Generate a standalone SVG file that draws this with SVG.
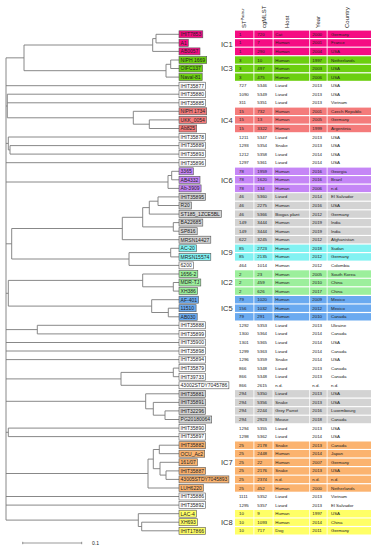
<svg xmlns="http://www.w3.org/2000/svg" width="379" height="550" viewBox="0 0 379 550">
<defs>
<style>
.br{fill:none;stroke:#7a7a7a;stroke-width:0.9}
.lb{stroke:#555;stroke-width:0.6}
.lt{font-family:"Liberation Sans",Arial,sans-serif;font-size:5px;fill:#222}
.tt{font-family:"Liberation Sans",Arial,sans-serif;font-size:4.4px;fill:#222}
.hd{font-family:"Liberation Sans",Arial,sans-serif;font-size:6px;fill:#222}
.ic{font-family:"Liberation Sans",Arial,sans-serif;font-size:7.5px;fill:#333}
.w{fill:#fff}
.c1{fill:#f50c83}.c3{fill:#6ccf10}.c4{fill:#f47b7b}.c6{fill:#c586f6}.cg{fill:#d3d3d3}
.c9{fill:#82f2f2}.c2{fill:#9cef9c}.c5{fill:#6aaaf0}.c7{fill:#fbb36f}.c8{fill:#ffff66}
</style>
</defs>
<rect width="379" height="550" fill="#fff"/>

<!-- headers -->
<g id="headers" class="hd">
<text transform="translate(246.2,28) rotate(-90)">ST<tspan font-size="3.5" dy="-2">Pasteur</tspan></text>
<text transform="translate(265.5,28) rotate(-90)">cgMLST</text>
<text transform="translate(288.9,28) rotate(-90)">Host</text>
<text transform="translate(319.9,28) rotate(-90)">Year</text>
<text transform="translate(348.9,28) rotate(-90)">Country</text>
</g>

<!-- tree connectors -->
<g id="connectors" class="br">
<path d="M6 57.85V520.1"/>
<path d="M6 57.85H24M24 45V70.7"/>
<path d="M24 45H152.7M152.7 38.6V51.4M152.7 38.6H156M156 34.3V42.9M156 34.3H179M156 42.9H179M152.7 51.4H179"/>
<path d="M24 70.7H166M166 64.3V77.1M166 64.3H170.7M170.7 60V68.5M170.7 60H179M170.7 68.5H179M166 77.1H179"/>
<path d="M6 85.7H179"/>
<path d="M6 106H7.3M7.3 94.2V117.8M7.3 94.2H179M7.3 102.8H179"/>
<path d="M7.3 117.8H133.3M133.3 111.3V124.2M133.3 111.3H179M133.3 124.2H149.3M149.3 119.9V128.5M149.3 119.9H179M149.3 128.5H179"/>
<path d="M6 143.4H8.3M8.3 137V149.9M8.3 137H179M8.3 149.9H10M10 145.6V154.1M10 145.6H179M10 154.1H179M6 162.7H179"/>
<path d="M6 182H168M168 175.5V188.4M168 175.5H171.7M171.7 171.3V179.8M171.7 171.3H179M171.7 179.8H179M168 188.4H179"/>
<path d="M6 243.8H11.7M11.7 228.5V259M11.7 228.5H122.3M122.3 217.3V239.7M122.3 239.7H179M122.3 217.3H142.7M142.7 207.6V226.9M142.7 207.6H149.3M149.3 201.2V214.1M149.3 214.1H179M149.3 201.2H158M158 196.9V205.5M158 196.9H179M158 205.5H179M142.7 226.9H173.3M173.3 222.6V231.2M173.3 222.6H179M173.3 231.2H179"/>
<path d="M11.7 259H129M129 252.6V265.4M129 265.4H179M129 252.6H170.7M170.7 248.3V256.9M170.7 248.3H179M170.7 256.9H179"/>
<path d="M6 293.3H8.3M8.3 280.4V306.1M8.3 280.4H142.7M142.7 274V286.8M142.7 274H179M142.7 286.8H173.3M173.3 282.5V291.1M173.3 282.5H179M173.3 291.1H179"/>
<path d="M8.3 306.1H151.7M151.7 299.7V312.5M151.7 299.7H179M151.7 312.5H168.3M168.3 308.2V316.8M168.3 308.2H179M168.3 316.8H179"/>
<path d="M6 329.6H37.3M37.3 325.3V333.9M37.3 325.3H179M37.3 333.9H179"/>
<path d="M6 342.5H179M6 351H179M6 359.6H179"/>
<path d="M6 378.9H121M121 372.4V385.3M121 385.3H179M121 372.4H173.3M173.3 368.1V376.7M173.3 368.1H179M173.3 376.7H179"/>
<path d="M6 401.3H145.7M145.7 393.8V408.8M145.7 393.8H179M145.7 408.8H153.3M153.3 402.4V415.2M153.3 402.4H179M153.3 415.2H165M165 410.9V419.5M165 410.9H179M165 419.5H179"/>
<path d="M6 432.3H8.3M8.3 428.1V436.6M8.3 428.1H179M8.3 436.6H179"/>
<path d="M6 473.5H148M148 459.1V488M148 488H179M148 459.1H153.3M153.3 449.5V468.7M153.3 449.5H159.3M159.3 445.2V453.7M159.3 445.2H179M159.3 453.7H179M153.3 468.7H160M160 462.3V475.1M160 462.3H179M160 475.1H166M166 470.9V479.4M166 470.9H179M166 479.4H179"/>
<path d="M6 496.5H179M6 505.1H179"/>
<path d="M6 520.1H138.3M138.3 513.7V526.5M138.3 513.7H179M138.3 526.5H141.7M141.7 522.2V530.8M141.7 522.2H179M141.7 530.8H179"/>
</g>

<!-- scale bar -->
<g id="scale">
<path d="M22.7 543H81.7M22.7 541.8V544.2M81.7 541.8V544.2" stroke="#555" stroke-width="0.6" fill="none"/>
<text x="92" y="545" class="lt">0.1</text>
</g>

<!-- IC labels -->
<g id="ic-labels" class="ic">
<text x="221" y="46.7">IC1</text>
<text x="221" y="71">IC3</text>
<text x="221" y="122.6">IC4</text>
<text x="221" y="182.5">IC6</text>
<text x="221" y="255.3">IC9</text>
<text x="221" y="285.2">IC2</text>
<text x="221" y="310.9">IC5</text>
<text x="221" y="465">IC7</text>
<text x="221" y="524.9">IC8</text>
</g>

<!-- rows: each node = label box + table row -->
<g id="r1"><rect class="lb c1" x="179" y="30.8" width="23.8" height="7"/><text class="lt" x="180.6" y="36.1">IHIT7853</text><g class="c1"><rect x="235" y="30.6" width="18.5" height="7.4"/><rect x="254.3" y="30.6" width="18.4" height="7.4"/><rect x="273.5" y="30.6" width="35.8" height="7.4"/><rect x="310.1" y="30.6" width="16.6" height="7.4"/><rect x="327.5" y="30.6" width="43.5" height="7.4"/></g><g class="tt"><text x="239" y="35.8">1</text><text x="257.3" y="35.8">720</text><text x="275.3" y="35.8">Cat</text><text x="312.3" y="35.8">2000</text><text x="331" y="35.8">Germany</text></g></g>
<g id="r2"><rect class="lb c1" x="179" y="39.4" width="9.3" height="7"/><text class="lt" x="180.6" y="44.7">A1</text><g class="c1"><rect x="235" y="39.2" width="18.5" height="7.4"/><rect x="254.3" y="39.2" width="18.4" height="7.4"/><rect x="273.5" y="39.2" width="35.8" height="7.4"/><rect x="310.1" y="39.2" width="16.6" height="7.4"/><rect x="327.5" y="39.2" width="43.5" height="7.4"/></g><g class="tt"><text x="239" y="44.4">1</text><text x="257.3" y="44.4">7</text><text x="275.3" y="44.4">Human</text><text x="312.3" y="44.4">2001</text><text x="331" y="44.4">France</text></g></g>
<g id="r3"><rect class="lb c1" x="179" y="47.9" width="21" height="7"/><text class="lt" x="180.6" y="53.2">AB0057</text><g class="c1"><rect x="235" y="47.7" width="18.5" height="7.4"/><rect x="254.3" y="47.7" width="18.4" height="7.4"/><rect x="273.5" y="47.7" width="35.8" height="7.4"/><rect x="310.1" y="47.7" width="16.6" height="7.4"/><rect x="327.5" y="47.7" width="43.5" height="7.4"/></g><g class="tt"><text x="239" y="52.9">1</text><text x="257.3" y="52.9">290</text><text x="275.3" y="52.9">Human</text><text x="312.3" y="52.9">2004</text><text x="331" y="52.9">USA</text></g></g>
<g id="r4"><rect class="lb c3" x="179" y="56.5" width="27.7" height="7"/><text class="lt" x="180.6" y="61.8">NIPH 1669</text><g class="c3"><rect x="235" y="56.3" width="18.5" height="7.4"/><rect x="254.3" y="56.3" width="18.4" height="7.4"/><rect x="273.5" y="56.3" width="35.8" height="7.4"/><rect x="310.1" y="56.3" width="16.6" height="7.4"/><rect x="327.5" y="56.3" width="43.5" height="7.4"/></g><g class="tt"><text x="239" y="61.5">3</text><text x="257.3" y="61.5">10</text><text x="275.3" y="61.5">Human</text><text x="312.3" y="61.5">1997</text><text x="331" y="61.5">Netherlands</text></g></g>
<g id="r5"><rect class="lb c3" x="179" y="65" width="23.5" height="7"/><text class="lt" x="180.6" y="70.3">OIFC137</text><g class="c3"><rect x="235" y="64.8" width="18.5" height="7.4"/><rect x="254.3" y="64.8" width="18.4" height="7.4"/><rect x="273.5" y="64.8" width="35.8" height="7.4"/><rect x="310.1" y="64.8" width="16.6" height="7.4"/><rect x="327.5" y="64.8" width="43.5" height="7.4"/></g><g class="tt"><text x="239" y="70">3</text><text x="257.3" y="70">497</text><text x="275.3" y="70">Human</text><text x="312.3" y="70">2003</text><text x="331" y="70">USA</text></g></g>
<g id="r6"><rect class="lb c3" x="179" y="73.6" width="23.2" height="7"/><text class="lt" x="180.6" y="78.9">Naval-81</text><g class="c3"><rect x="235" y="73.4" width="18.5" height="7.4"/><rect x="254.3" y="73.4" width="18.4" height="7.4"/><rect x="273.5" y="73.4" width="35.8" height="7.4"/><rect x="310.1" y="73.4" width="16.6" height="7.4"/><rect x="327.5" y="73.4" width="43.5" height="7.4"/></g><g class="tt"><text x="239" y="78.6">3</text><text x="257.3" y="78.6">475</text><text x="275.3" y="78.6">Human</text><text x="312.3" y="78.6">2006</text><text x="331" y="78.6">USA</text></g></g>
<g id="r7"><rect class="lb w" x="179" y="82.2" width="26.6" height="7"/><text class="lt" x="180.6" y="87.5">IHIT35877</text><g class="tt"><text x="239" y="87.2">727</text><text x="257.3" y="87.2">5346</text><text x="275.3" y="87.2">Lizard</text><text x="312.3" y="87.2">2013</text><text x="331" y="87.2">USA</text></g></g>
<g id="r8"><rect class="lb w" x="179" y="90.7" width="26.6" height="7"/><text class="lt" x="180.6" y="96">IHIT35880</text><g class="tt"><text x="239" y="95.7">1090</text><text x="257.3" y="95.7">5349</text><text x="275.3" y="95.7">Lizard</text><text x="312.3" y="95.7">2013</text><text x="331" y="95.7">USA</text></g></g>
<g id="r9"><rect class="lb w" x="179" y="99.3" width="26.6" height="7"/><text class="lt" x="180.6" y="104.6">IHIT35885</text><g class="tt"><text x="239" y="104.3">311</text><text x="257.3" y="104.3">5351</text><text x="275.3" y="104.3">Lizard</text><text x="312.3" y="104.3">2013</text><text x="331" y="104.3">Vietnam</text></g></g>
<g id="r10"><rect class="lb c4" x="179" y="107.8" width="27.7" height="7"/><text class="lt" x="180.6" y="113.1">NIPH 1734</text><g class="c4"><rect x="235" y="107.6" width="18.5" height="7.4"/><rect x="254.3" y="107.6" width="18.4" height="7.4"/><rect x="273.5" y="107.6" width="35.8" height="7.4"/><rect x="310.1" y="107.6" width="16.6" height="7.4"/><rect x="327.5" y="107.6" width="43.5" height="7.4"/></g><g class="tt"><text x="239" y="112.8">15</text><text x="257.3" y="112.8">732</text><text x="275.3" y="112.8">Human</text><text x="312.3" y="112.8">2001</text><text x="331" y="112.8">Czech Republic</text></g></g>
<g id="r11"><rect class="lb c4" x="179" y="116.4" width="27.4" height="7"/><text class="lt" x="180.6" y="121.7">UKK_0054</text><g class="c4"><rect x="235" y="116.2" width="18.5" height="7.4"/><rect x="254.3" y="116.2" width="18.4" height="7.4"/><rect x="273.5" y="116.2" width="35.8" height="7.4"/><rect x="310.1" y="116.2" width="16.6" height="7.4"/><rect x="327.5" y="116.2" width="43.5" height="7.4"/></g><g class="tt"><text x="239" y="121.4">15</text><text x="257.3" y="121.4">13</text><text x="275.3" y="121.4">Human</text><text x="312.3" y="121.4">2005</text><text x="331" y="121.4">Germany</text></g></g>
<g id="r12"><rect class="lb c4" x="179" y="125" width="17.7" height="7"/><text class="lt" x="180.6" y="130.3">Ab825</text><g class="c4"><rect x="235" y="124.8" width="18.5" height="7.4"/><rect x="254.3" y="124.8" width="18.4" height="7.4"/><rect x="273.5" y="124.8" width="35.8" height="7.4"/><rect x="310.1" y="124.8" width="16.6" height="7.4"/><rect x="327.5" y="124.8" width="43.5" height="7.4"/></g><g class="tt"><text x="239" y="130">15</text><text x="257.3" y="130">3322</text><text x="275.3" y="130">Human</text><text x="312.3" y="130">1999</text><text x="331" y="130">Argentinia</text></g></g>
<g id="r13"><rect class="lb w" x="179" y="133.5" width="26.6" height="7"/><text class="lt" x="180.6" y="138.8">IHIT35878</text><g class="tt"><text x="239" y="138.5">1211</text><text x="257.3" y="138.5">5347</text><text x="275.3" y="138.5">Lizard</text><text x="312.3" y="138.5">2013</text><text x="331" y="138.5">USA</text></g></g>
<g id="r14"><rect class="lb w" x="179" y="142.1" width="26.6" height="7"/><text class="lt" x="180.6" y="147.4">IHIT35889</text><g class="tt"><text x="239" y="147.1">1293</text><text x="257.3" y="147.1">5354</text><text x="275.3" y="147.1">Snake</text><text x="312.3" y="147.1">2013</text><text x="331" y="147.1">USA</text></g></g>
<g id="r15"><rect class="lb w" x="179" y="150.6" width="26.6" height="7"/><text class="lt" x="180.6" y="155.9">IHIT35893</text><g class="tt"><text x="239" y="155.6">1212</text><text x="257.3" y="155.6">5358</text><text x="275.3" y="155.6">Lizard</text><text x="312.3" y="155.6">2014</text><text x="331" y="155.6">USA</text></g></g>
<g id="r16"><rect class="lb w" x="179" y="159.2" width="26.6" height="7"/><text class="lt" x="180.6" y="164.5">IHIT35896</text><g class="tt"><text x="239" y="164.2">1297</text><text x="257.3" y="164.2">5361</text><text x="275.3" y="164.2">Lizard</text><text x="312.3" y="164.2">2014</text><text x="331" y="164.2">USA</text></g></g>
<g id="r17"><rect class="lb c6" x="179" y="167.8" width="14.3" height="7"/><text class="lt" x="180.6" y="173.1">3365</text><g class="c6"><rect x="235" y="167.6" width="18.5" height="7.4"/><rect x="254.3" y="167.6" width="18.4" height="7.4"/><rect x="273.5" y="167.6" width="35.8" height="7.4"/><rect x="310.1" y="167.6" width="16.6" height="7.4"/><rect x="327.5" y="167.6" width="43.5" height="7.4"/></g><g class="tt"><text x="239" y="172.8">78</text><text x="257.3" y="172.8">1959</text><text x="275.3" y="172.8">Human</text><text x="312.3" y="172.8">2016</text><text x="331" y="172.8">Georgia</text></g></g>
<g id="r18"><rect class="lb c6" x="179" y="176.3" width="21" height="7"/><text class="lt" x="180.6" y="181.6">AB4332</text><g class="c6"><rect x="235" y="176.1" width="18.5" height="7.4"/><rect x="254.3" y="176.1" width="18.4" height="7.4"/><rect x="273.5" y="176.1" width="35.8" height="7.4"/><rect x="310.1" y="176.1" width="16.6" height="7.4"/><rect x="327.5" y="176.1" width="43.5" height="7.4"/></g><g class="tt"><text x="239" y="181.3">78</text><text x="257.3" y="181.3">1620</text><text x="275.3" y="181.3">Human</text><text x="312.3" y="181.3">2016</text><text x="331" y="181.3">Brazil</text></g></g>
<g id="r19"><rect class="lb c6" x="179" y="184.9" width="22.1" height="7"/><text class="lt" x="180.6" y="190.2">Ab-3909</text><g class="c6"><rect x="235" y="184.7" width="18.5" height="7.4"/><rect x="254.3" y="184.7" width="18.4" height="7.4"/><rect x="273.5" y="184.7" width="35.8" height="7.4"/><rect x="310.1" y="184.7" width="16.6" height="7.4"/><rect x="327.5" y="184.7" width="43.5" height="7.4"/></g><g class="tt"><text x="239" y="189.9">78</text><text x="257.3" y="189.9">134</text><text x="275.3" y="189.9">Human</text><text x="312.3" y="189.9">2006</text><text x="331" y="189.9">n.d.</text></g></g>
<g id="r20"><rect class="lb cg" x="179" y="193.4" width="26.6" height="7"/><text class="lt" x="180.6" y="198.7">IHIT35895</text><g class="cg"><rect x="235" y="193.2" width="18.5" height="7.4"/><rect x="254.3" y="193.2" width="18.4" height="7.4"/><rect x="273.5" y="193.2" width="35.8" height="7.4"/><rect x="310.1" y="193.2" width="16.6" height="7.4"/><rect x="327.5" y="193.2" width="43.5" height="7.4"/></g><g class="tt"><text x="239" y="198.4">46</text><text x="257.3" y="198.4">5360</text><text x="275.3" y="198.4">Lizard</text><text x="312.3" y="198.4">2014</text><text x="331" y="198.4">El Salvador</text></g></g>
<g id="r21"><rect class="lb cg" x="179" y="202" width="12.4" height="7"/><text class="lt" x="180.6" y="207.3">R20</text><g class="cg"><rect x="235" y="201.8" width="18.5" height="7.4"/><rect x="254.3" y="201.8" width="18.4" height="7.4"/><rect x="273.5" y="201.8" width="35.8" height="7.4"/><rect x="310.1" y="201.8" width="16.6" height="7.4"/><rect x="327.5" y="201.8" width="43.5" height="7.4"/></g><g class="tt"><text x="239" y="207">46</text><text x="257.3" y="207">2275</text><text x="275.3" y="207">Human</text><text x="312.3" y="207">2016</text><text x="331" y="207">USA</text></g></g>
<g id="r22"><rect class="lb cg" x="179" y="210.6" width="42.4" height="7"/><text class="lt" x="180.6" y="215.9">ST185_1ZCE5BL</text><g class="cg"><rect x="235" y="210.4" width="18.5" height="7.4"/><rect x="254.3" y="210.4" width="18.4" height="7.4"/><rect x="273.5" y="210.4" width="35.8" height="7.4"/><rect x="310.1" y="210.4" width="16.6" height="7.4"/><rect x="327.5" y="210.4" width="43.5" height="7.4"/></g><g class="tt"><text x="239" y="215.6">46</text><text x="257.3" y="215.6">5366</text><text x="275.3" y="215.6">Biogas plant</text><text x="312.3" y="215.6">2012</text><text x="331" y="215.6">Germany</text></g></g>
<g id="r23"><rect class="lb cg" x="179" y="219.1" width="23.8" height="7"/><text class="lt" x="180.6" y="224.4">BA22685</text><g class="cg"><rect x="235" y="218.9" width="18.5" height="7.4"/><rect x="254.3" y="218.9" width="18.4" height="7.4"/><rect x="273.5" y="218.9" width="35.8" height="7.4"/><rect x="310.1" y="218.9" width="16.6" height="7.4"/><rect x="327.5" y="218.9" width="43.5" height="7.4"/></g><g class="tt"><text x="239" y="224.1">149</text><text x="257.3" y="224.1">3444</text><text x="275.3" y="224.1">Human</text><text x="312.3" y="224.1">2019</text><text x="331" y="224.1">India</text></g></g>
<g id="r24"><rect class="lb cg" x="179" y="227.7" width="18.2" height="7"/><text class="lt" x="180.6" y="233">SP816</text><g class="cg"><rect x="235" y="227.5" width="18.5" height="7.4"/><rect x="254.3" y="227.5" width="18.4" height="7.4"/><rect x="273.5" y="227.5" width="35.8" height="7.4"/><rect x="310.1" y="227.5" width="16.6" height="7.4"/><rect x="327.5" y="227.5" width="43.5" height="7.4"/></g><g class="tt"><text x="239" y="232.7">149</text><text x="257.3" y="232.7">3444</text><text x="275.3" y="232.7">Human</text><text x="312.3" y="232.7">2019</text><text x="331" y="232.7">India</text></g></g>
<g id="r25"><rect class="lb cg" x="179" y="236.2" width="31.8" height="7"/><text class="lt" x="180.6" y="241.5">MRSN14427</text><g class="cg"><rect x="235" y="236" width="18.5" height="7.4"/><rect x="254.3" y="236" width="18.4" height="7.4"/><rect x="273.5" y="236" width="35.8" height="7.4"/><rect x="310.1" y="236" width="16.6" height="7.4"/><rect x="327.5" y="236" width="43.5" height="7.4"/></g><g class="tt"><text x="239" y="241.2">622</text><text x="257.3" y="241.2">3245</text><text x="275.3" y="241.2">Human</text><text x="312.3" y="241.2">2012</text><text x="331" y="241.2">Afghanistan</text></g></g>
<g id="r26"><rect class="lb c9" x="179" y="244.8" width="17.4" height="7"/><text class="lt" x="180.6" y="250.1">AC-20</text><g class="c9"><rect x="235" y="244.6" width="18.5" height="7.4"/><rect x="254.3" y="244.6" width="18.4" height="7.4"/><rect x="273.5" y="244.6" width="35.8" height="7.4"/><rect x="310.1" y="244.6" width="16.6" height="7.4"/><rect x="327.5" y="244.6" width="43.5" height="7.4"/></g><g class="tt"><text x="239" y="249.8">85</text><text x="257.3" y="249.8">2723</text><text x="275.3" y="249.8">Human</text><text x="312.3" y="249.8">2018</text><text x="331" y="249.8">Sudan</text></g></g>
<g id="r27"><rect class="lb c9" x="179" y="253.4" width="31.8" height="7"/><text class="lt" x="180.6" y="258.7">MRSN15574</text><g class="c9"><rect x="235" y="253.2" width="18.5" height="7.4"/><rect x="254.3" y="253.2" width="18.4" height="7.4"/><rect x="273.5" y="253.2" width="35.8" height="7.4"/><rect x="310.1" y="253.2" width="16.6" height="7.4"/><rect x="327.5" y="253.2" width="43.5" height="7.4"/></g><g class="tt"><text x="239" y="258.4">85</text><text x="257.3" y="258.4">2135</text><text x="275.3" y="258.4">Human</text><text x="312.3" y="258.4">2012</text><text x="331" y="258.4">Germany</text></g></g>
<g id="r28"><rect class="lb w" x="179" y="261.9" width="14.3" height="7"/><text class="lt" x="180.6" y="267.2">6200</text><g class="tt"><text x="239" y="266.9">464</text><text x="257.3" y="266.9">1014</text><text x="275.3" y="266.9">Human</text><text x="312.3" y="266.9">2012</text><text x="331" y="266.9">Colombia</text></g></g>
<g id="r29"><rect class="lb c2" x="179" y="270.5" width="18.8" height="7"/><text class="lt" x="180.6" y="275.8">1656-2</text><g class="c2"><rect x="235" y="270.3" width="18.5" height="7.4"/><rect x="254.3" y="270.3" width="18.4" height="7.4"/><rect x="273.5" y="270.3" width="35.8" height="7.4"/><rect x="310.1" y="270.3" width="16.6" height="7.4"/><rect x="327.5" y="270.3" width="43.5" height="7.4"/></g><g class="tt"><text x="239" y="275.5">2</text><text x="257.3" y="275.5">23</text><text x="275.3" y="275.5">Human</text><text x="312.3" y="275.5">2005</text><text x="331" y="275.5">South Korea</text></g></g>
<g id="r30"><rect class="lb c2" x="179" y="279" width="21.8" height="7"/><text class="lt" x="180.6" y="284.3">MDR-TJ</text><g class="c2"><rect x="235" y="278.8" width="18.5" height="7.4"/><rect x="254.3" y="278.8" width="18.4" height="7.4"/><rect x="273.5" y="278.8" width="35.8" height="7.4"/><rect x="310.1" y="278.8" width="16.6" height="7.4"/><rect x="327.5" y="278.8" width="43.5" height="7.4"/></g><g class="tt"><text x="239" y="284">2</text><text x="257.3" y="284">459</text><text x="275.3" y="284">Human</text><text x="312.3" y="284">2010</text><text x="331" y="284">China</text></g></g>
<g id="r31"><rect class="lb c2" x="179" y="287.6" width="18.5" height="7"/><text class="lt" x="180.6" y="292.9">XH386</text><g class="c2"><rect x="235" y="287.4" width="18.5" height="7.4"/><rect x="254.3" y="287.4" width="18.4" height="7.4"/><rect x="273.5" y="287.4" width="35.8" height="7.4"/><rect x="310.1" y="287.4" width="16.6" height="7.4"/><rect x="327.5" y="287.4" width="43.5" height="7.4"/></g><g class="tt"><text x="239" y="292.6">2</text><text x="257.3" y="292.6">626</text><text x="275.3" y="292.6">Human</text><text x="312.3" y="292.6">2017</text><text x="331" y="292.6">China</text></g></g>
<g id="r32"><rect class="lb c5" x="179" y="296.2" width="19.6" height="7"/><text class="lt" x="180.6" y="301.5">AF-401</text><g class="c5"><rect x="235" y="296" width="18.5" height="7.4"/><rect x="254.3" y="296" width="18.4" height="7.4"/><rect x="273.5" y="296" width="35.8" height="7.4"/><rect x="310.1" y="296" width="16.6" height="7.4"/><rect x="327.5" y="296" width="43.5" height="7.4"/></g><g class="tt"><text x="239" y="301.2">79</text><text x="257.3" y="301.2">1020</text><text x="275.3" y="301.2">Human</text><text x="312.3" y="301.2">2009</text><text x="331" y="301.2">Mexico</text></g></g>
<g id="r33"><rect class="lb c5" x="179" y="304.7" width="17.1" height="7"/><text class="lt" x="180.6" y="310">11510</text><g class="c5"><rect x="235" y="304.5" width="18.5" height="7.4"/><rect x="254.3" y="304.5" width="18.4" height="7.4"/><rect x="273.5" y="304.5" width="35.8" height="7.4"/><rect x="310.1" y="304.5" width="16.6" height="7.4"/><rect x="327.5" y="304.5" width="43.5" height="7.4"/></g><g class="tt"><text x="239" y="309.7">156</text><text x="257.3" y="309.7">1032</text><text x="275.3" y="309.7">Human</text><text x="312.3" y="309.7">2012</text><text x="331" y="309.7">Mexico</text></g></g>
<g id="r34"><rect class="lb c5" x="179" y="313.3" width="18.2" height="7"/><text class="lt" x="180.6" y="318.6">AB030</text><g class="c5"><rect x="235" y="313.1" width="18.5" height="7.4"/><rect x="254.3" y="313.1" width="18.4" height="7.4"/><rect x="273.5" y="313.1" width="35.8" height="7.4"/><rect x="310.1" y="313.1" width="16.6" height="7.4"/><rect x="327.5" y="313.1" width="43.5" height="7.4"/></g><g class="tt"><text x="239" y="318.3">79</text><text x="257.3" y="318.3">291</text><text x="275.3" y="318.3">Human</text><text x="312.3" y="318.3">2010</text><text x="331" y="318.3">Canada</text></g></g>
<g id="r35"><rect class="lb w" x="179" y="321.8" width="26.6" height="7"/><text class="lt" x="180.6" y="327.1">IHIT35888</text><g class="tt"><text x="239" y="326.8">1292</text><text x="257.3" y="326.8">5353</text><text x="275.3" y="326.8">Lizard</text><text x="312.3" y="326.8">2013</text><text x="331" y="326.8">Ukraine</text></g></g>
<g id="r36"><rect class="lb w" x="179" y="330.4" width="26.6" height="7"/><text class="lt" x="180.6" y="335.7">IHIT35899</text><g class="tt"><text x="239" y="335.4">1300</text><text x="257.3" y="335.4">5364</text><text x="275.3" y="335.4">Lizard</text><text x="312.3" y="335.4">2014</text><text x="331" y="335.4">Canada</text></g></g>
<g id="r37"><rect class="lb w" x="179" y="339" width="26.6" height="7"/><text class="lt" x="180.6" y="344.3">IHIT35900</text><g class="tt"><text x="239" y="344">1301</text><text x="257.3" y="344">5365</text><text x="275.3" y="344">Lizard</text><text x="312.3" y="344">2014</text><text x="331" y="344">USA</text></g></g>
<g id="r38"><rect class="lb w" x="179" y="347.5" width="26.6" height="7"/><text class="lt" x="180.6" y="352.8">IHIT35898</text><g class="tt"><text x="239" y="352.5">1299</text><text x="257.3" y="352.5">5363</text><text x="275.3" y="352.5">Lizard</text><text x="312.3" y="352.5">2014</text><text x="331" y="352.5">Canada</text></g></g>
<g id="r39"><rect class="lb w" x="179" y="356.1" width="26.6" height="7"/><text class="lt" x="180.6" y="361.4">IHIT35894</text><g class="tt"><text x="239" y="361.1">1296</text><text x="257.3" y="361.1">5359</text><text x="275.3" y="361.1">Snake</text><text x="312.3" y="361.1">2014</text><text x="331" y="361.1">USA</text></g></g>
<g id="r40"><rect class="lb w" x="179" y="364.6" width="26.6" height="7"/><text class="lt" x="180.6" y="369.9">IHIT35879</text><g class="tt"><text x="239" y="369.6">866</text><text x="257.3" y="369.6">5348</text><text x="275.3" y="369.6">Lizard</text><text x="312.3" y="369.6">2013</text><text x="331" y="369.6">Canada</text></g></g>
<g id="r41"><rect class="lb w" x="179" y="373.2" width="26.6" height="7"/><text class="lt" x="180.6" y="378.5">IHIT39733</text><g class="tt"><text x="239" y="378.2">866</text><text x="257.3" y="378.2">5348</text><text x="275.3" y="378.2">Lizard</text><text x="312.3" y="378.2">2013</text><text x="331" y="378.2">Canada</text></g></g>
<g id="r42"><rect class="lb w" x="179" y="381.8" width="49.9" height="7"/><text class="lt" x="180.6" y="387.1">43002STDY7045786</text><g class="tt"><text x="239" y="386.8">866</text><text x="257.3" y="386.8">2615</text><text x="275.3" y="386.8">n.d.</text><text x="312.3" y="386.8">n.d.</text><text x="331" y="386.8">n.d.</text></g></g>
<g id="r43"><rect class="lb cg" x="179" y="390.3" width="26.6" height="7"/><text class="lt" x="180.6" y="395.6">IHIT35881</text><g class="cg"><rect x="235" y="390.1" width="18.5" height="7.4"/><rect x="254.3" y="390.1" width="18.4" height="7.4"/><rect x="273.5" y="390.1" width="35.8" height="7.4"/><rect x="310.1" y="390.1" width="16.6" height="7.4"/><rect x="327.5" y="390.1" width="43.5" height="7.4"/></g><g class="tt"><text x="239" y="395.3">294</text><text x="257.3" y="395.3">5350</text><text x="275.3" y="395.3">Lizard</text><text x="312.3" y="395.3">2013</text><text x="331" y="395.3">USA</text></g></g>
<g id="r44"><rect class="lb cg" x="179" y="398.9" width="26.6" height="7"/><text class="lt" x="180.6" y="404.2">IHIT35891</text><g class="cg"><rect x="235" y="398.7" width="18.5" height="7.4"/><rect x="254.3" y="398.7" width="18.4" height="7.4"/><rect x="273.5" y="398.7" width="35.8" height="7.4"/><rect x="310.1" y="398.7" width="16.6" height="7.4"/><rect x="327.5" y="398.7" width="43.5" height="7.4"/></g><g class="tt"><text x="239" y="403.9">294</text><text x="257.3" y="403.9">5356</text><text x="275.3" y="403.9">Snake</text><text x="312.3" y="403.9">2013</text><text x="331" y="403.9">USA</text></g></g>
<g id="r45"><rect class="lb cg" x="179" y="407.4" width="26.6" height="7"/><text class="lt" x="180.6" y="412.7">IHIT32296</text><g class="cg"><rect x="235" y="407.2" width="18.5" height="7.4"/><rect x="254.3" y="407.2" width="18.4" height="7.4"/><rect x="273.5" y="407.2" width="35.8" height="7.4"/><rect x="310.1" y="407.2" width="16.6" height="7.4"/><rect x="327.5" y="407.2" width="43.5" height="7.4"/></g><g class="tt"><text x="239" y="412.4">294</text><text x="257.3" y="412.4">2244</text><text x="275.3" y="412.4">Grey Parrot</text><text x="312.3" y="412.4">2016</text><text x="331" y="412.4">Luxembourg</text></g></g>
<g id="r46"><rect class="lb cg" x="179" y="416" width="32.7" height="7"/><text class="lt" x="180.6" y="421.3">PG20180064</text><g class="cg"><rect x="235" y="415.8" width="18.5" height="7.4"/><rect x="254.3" y="415.8" width="18.4" height="7.4"/><rect x="273.5" y="415.8" width="35.8" height="7.4"/><rect x="310.1" y="415.8" width="16.6" height="7.4"/><rect x="327.5" y="415.8" width="43.5" height="7.4"/></g><g class="tt"><text x="239" y="421">294</text><text x="257.3" y="421">2923</text><text x="275.3" y="421">Mouse</text><text x="312.3" y="421">2018</text><text x="331" y="421">Canada</text></g></g>
<g id="r47"><rect class="lb w" x="179" y="424.6" width="26.6" height="7"/><text class="lt" x="180.6" y="429.9">IHIT35890</text><g class="tt"><text x="239" y="429.6">1294</text><text x="257.3" y="429.6">5355</text><text x="275.3" y="429.6">Lizard</text><text x="312.3" y="429.6">2013</text><text x="331" y="429.6">USA</text></g></g>
<g id="r48"><rect class="lb w" x="179" y="433.1" width="26.6" height="7"/><text class="lt" x="180.6" y="438.4">IHIT35897</text><g class="tt"><text x="239" y="438.1">1298</text><text x="257.3" y="438.1">5362</text><text x="275.3" y="438.1">Lizard</text><text x="312.3" y="438.1">2014</text><text x="331" y="438.1">USA</text></g></g>
<g id="r49"><rect class="lb c7" x="179" y="441.7" width="26.6" height="7"/><text class="lt" x="180.6" y="447">IHIT35882</text><g class="c7"><rect x="235" y="441.5" width="18.5" height="7.4"/><rect x="254.3" y="441.5" width="18.4" height="7.4"/><rect x="273.5" y="441.5" width="35.8" height="7.4"/><rect x="310.1" y="441.5" width="16.6" height="7.4"/><rect x="327.5" y="441.5" width="43.5" height="7.4"/></g><g class="tt"><text x="239" y="446.7">25</text><text x="257.3" y="446.7">2178</text><text x="275.3" y="446.7">Snake</text><text x="312.3" y="446.7">2013</text><text x="331" y="446.7">Canada</text></g></g>
<g id="r50"><rect class="lb c7" x="179" y="450.2" width="25.7" height="7"/><text class="lt" x="180.6" y="455.5">OCU_Ac2</text><g class="c7"><rect x="235" y="450" width="18.5" height="7.4"/><rect x="254.3" y="450" width="18.4" height="7.4"/><rect x="273.5" y="450" width="35.8" height="7.4"/><rect x="310.1" y="450" width="16.6" height="7.4"/><rect x="327.5" y="450" width="43.5" height="7.4"/></g><g class="tt"><text x="239" y="455.2">25</text><text x="257.3" y="455.2">2448</text><text x="275.3" y="455.2">Human</text><text x="312.3" y="455.2">2014</text><text x="331" y="455.2">Japan</text></g></g>
<g id="r51"><rect class="lb c7" x="179" y="458.8" width="18.5" height="7"/><text class="lt" x="180.6" y="464.1">161/07</text><g class="c7"><rect x="235" y="458.6" width="18.5" height="7.4"/><rect x="254.3" y="458.6" width="18.4" height="7.4"/><rect x="273.5" y="458.6" width="35.8" height="7.4"/><rect x="310.1" y="458.6" width="16.6" height="7.4"/><rect x="327.5" y="458.6" width="43.5" height="7.4"/></g><g class="tt"><text x="239" y="463.8">25</text><text x="257.3" y="463.8">22</text><text x="275.3" y="463.8">Human</text><text x="312.3" y="463.8">2007</text><text x="331" y="463.8">Germany</text></g></g>
<g id="r52"><rect class="lb c7" x="179" y="467.4" width="26.6" height="7"/><text class="lt" x="180.6" y="472.7">IHIT35887</text><g class="c7"><rect x="235" y="467.2" width="18.5" height="7.4"/><rect x="254.3" y="467.2" width="18.4" height="7.4"/><rect x="273.5" y="467.2" width="35.8" height="7.4"/><rect x="310.1" y="467.2" width="16.6" height="7.4"/><rect x="327.5" y="467.2" width="43.5" height="7.4"/></g><g class="tt"><text x="239" y="472.4">25</text><text x="257.3" y="472.4">2176</text><text x="275.3" y="472.4">Snake</text><text x="312.3" y="472.4">2013</text><text x="331" y="472.4">USA</text></g></g>
<g id="r53"><rect class="lb c7" x="179" y="475.9" width="49.9" height="7"/><text class="lt" x="180.6" y="481.2">43005STDY7045893</text><g class="c7"><rect x="235" y="475.7" width="18.5" height="7.4"/><rect x="254.3" y="475.7" width="18.4" height="7.4"/><rect x="273.5" y="475.7" width="35.8" height="7.4"/><rect x="310.1" y="475.7" width="16.6" height="7.4"/><rect x="327.5" y="475.7" width="43.5" height="7.4"/></g><g class="tt"><text x="239" y="480.9">25</text><text x="257.3" y="480.9">2374</text><text x="275.3" y="480.9">n.d.</text><text x="312.3" y="480.9">n.d.</text><text x="331" y="480.9">n.d.</text></g></g>
<g id="r54"><rect class="lb c7" x="179" y="484.5" width="24.3" height="7"/><text class="lt" x="180.6" y="489.8">LUH6220</text><g class="c7"><rect x="235" y="484.3" width="18.5" height="7.4"/><rect x="254.3" y="484.3" width="18.4" height="7.4"/><rect x="273.5" y="484.3" width="35.8" height="7.4"/><rect x="310.1" y="484.3" width="16.6" height="7.4"/><rect x="327.5" y="484.3" width="43.5" height="7.4"/></g><g class="tt"><text x="239" y="489.5">25</text><text x="257.3" y="489.5">452</text><text x="275.3" y="489.5">Human</text><text x="312.3" y="489.5">2000</text><text x="331" y="489.5">Netherlands</text></g></g>
<g id="r55"><rect class="lb w" x="179" y="493" width="26.6" height="7"/><text class="lt" x="180.6" y="498.3">IHIT35886</text><g class="tt"><text x="239" y="498">1111</text><text x="257.3" y="498">5352</text><text x="275.3" y="498">Lizard</text><text x="312.3" y="498">2013</text><text x="331" y="498">Vietnam</text></g></g>
<g id="r56"><rect class="lb w" x="179" y="501.6" width="26.6" height="7"/><text class="lt" x="180.6" y="506.9">IHIT35892</text><g class="tt"><text x="239" y="506.6">1295</text><text x="257.3" y="506.6">5357</text><text x="275.3" y="506.6">Lizard</text><text x="312.3" y="506.6">2013</text><text x="331" y="506.6">El Salvador</text></g></g>
<g id="r57"><rect class="lb c8" x="179" y="510.2" width="17.4" height="7"/><text class="lt" x="180.6" y="515.5">LAC-4</text><g class="c8"><rect x="235" y="510" width="18.5" height="7.4"/><rect x="254.3" y="510" width="18.4" height="7.4"/><rect x="273.5" y="510" width="35.8" height="7.4"/><rect x="310.1" y="510" width="16.6" height="7.4"/><rect x="327.5" y="510" width="43.5" height="7.4"/></g><g class="tt"><text x="239" y="515.2">10</text><text x="257.3" y="515.2">9</text><text x="275.3" y="515.2">Human</text><text x="312.3" y="515.2">1997</text><text x="331" y="515.2">USA</text></g></g>
<g id="r58"><rect class="lb c8" x="179" y="518.7" width="18.5" height="7"/><text class="lt" x="180.6" y="524">XH693</text><g class="c8"><rect x="235" y="518.5" width="18.5" height="7.4"/><rect x="254.3" y="518.5" width="18.4" height="7.4"/><rect x="273.5" y="518.5" width="35.8" height="7.4"/><rect x="310.1" y="518.5" width="16.6" height="7.4"/><rect x="327.5" y="518.5" width="43.5" height="7.4"/></g><g class="tt"><text x="239" y="523.7">10</text><text x="257.3" y="523.7">1093</text><text x="275.3" y="523.7">Human</text><text x="312.3" y="523.7">2014</text><text x="331" y="523.7">China</text></g></g>
<g id="r59"><rect class="lb c8" x="179" y="527.3" width="26.6" height="7"/><text class="lt" x="180.6" y="532.6">IHIT17866</text><g class="c8"><rect x="235" y="527.1" width="18.5" height="7.4"/><rect x="254.3" y="527.1" width="18.4" height="7.4"/><rect x="273.5" y="527.1" width="35.8" height="7.4"/><rect x="310.1" y="527.1" width="16.6" height="7.4"/><rect x="327.5" y="527.1" width="43.5" height="7.4"/></g><g class="tt"><text x="239" y="532.3">10</text><text x="257.3" y="532.3">717</text><text x="275.3" y="532.3">Dog</text><text x="312.3" y="532.3">2011</text><text x="331" y="532.3">Germany</text></g></g>
</svg>
